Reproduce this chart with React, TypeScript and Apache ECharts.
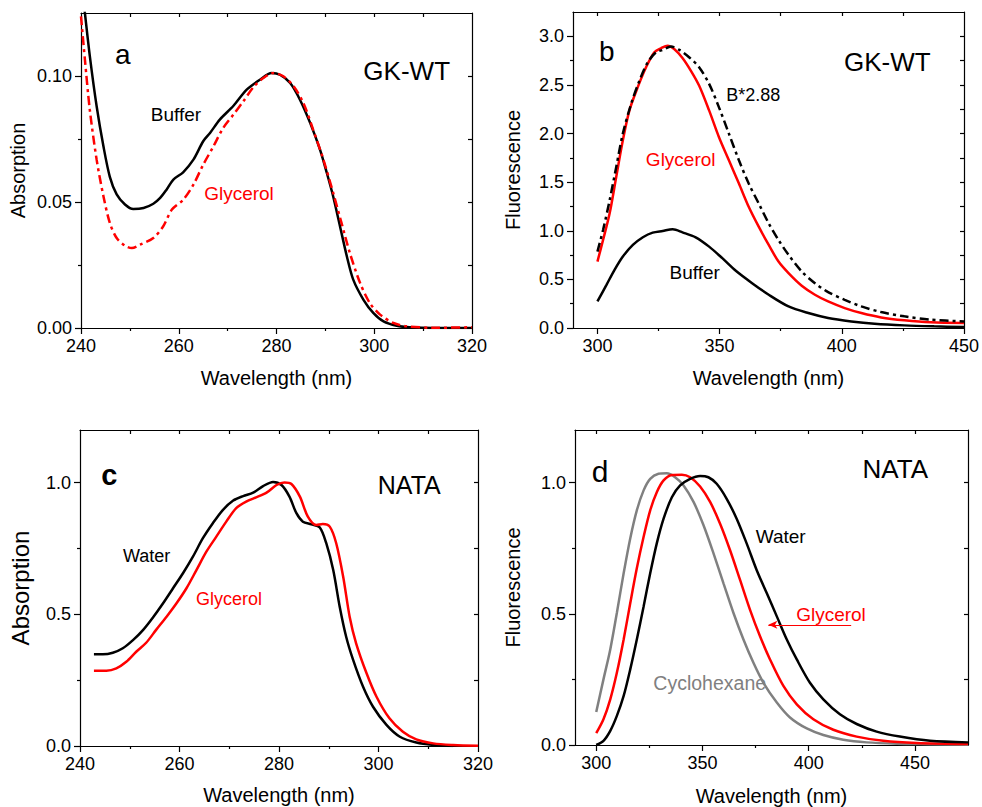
import React, { useEffect, useRef } from 'react';
import * as echarts from 'echarts';

const FF = "'Liberation Sans', Arial, Helvetica, sans-serif";
const RED = '#ff0000';
const GRAY = '#808080';
const BLACK = '#000000';

// ---------- Panel a : GK-WT absorption ----------
const aBufferWl = [240.3, 240.8, 241.8, 243.2, 244.6, 245.9, 247.3, 249.0, 250.7, 252.8, 254.8, 256.2, 257.5, 258.9, 260.9, 263.0, 265.0, 266.4, 268.4, 271.2, 273.9, 276.6, 279.0, 280.7, 282.8, 284.8, 286.9, 288.9, 290.3, 291.6, 293.0, 294.4, 295.7, 297.8, 299.8, 301.9, 304.6, 307.3, 312.1, 320];
const aBufferAbs = [0.134, 0.125, 0.108, 0.088, 0.072, 0.060, 0.053, 0.049, 0.0472, 0.0476, 0.0493, 0.0516, 0.0549, 0.0589, 0.0618, 0.0668, 0.0741, 0.0774, 0.0827, 0.0882, 0.0946, 0.0985, 0.1012, 0.1005, 0.0972, 0.0906, 0.0813, 0.0708, 0.0615, 0.0522, 0.0403, 0.0284, 0.0192, 0.0112, 0.0060, 0.0026, 0.0009, 0.0003, 0, 0];
const aGlycerolWl = [240.0, 240.8, 241.8, 243.2, 244.6, 245.9, 247.3, 249.0, 250.4, 252.1, 254.8, 256.8, 258.6, 260.9, 263.0, 265.0, 267.1, 269.1, 271.2, 273.2, 275.3, 277.3, 279.4, 281.4, 283.5, 285.5, 287.5, 289.6, 291.6, 293.3, 295.0, 297.1, 299.1, 301.2, 303.9, 306.6, 312.1, 320];
const aGlycerolAbs = [0.1237, 0.1065, 0.0866, 0.0668, 0.0522, 0.0417, 0.0357, 0.0327, 0.0317, 0.0331, 0.0357, 0.0403, 0.0470, 0.0509, 0.0569, 0.0648, 0.0721, 0.0794, 0.0847, 0.0899, 0.0956, 0.0992, 0.1012, 0.0999, 0.0959, 0.0893, 0.0787, 0.0668, 0.0536, 0.0417, 0.0298, 0.0179, 0.0099, 0.0053, 0.0020, 0.0007, 0.0001, 0.0003];
const aXMajor = [240, 260, 280, 300, 320];
const aXMinor = [250, 270, 290, 310];
const aXTop = [250, 260, 270, 280, 290, 300, 310];
const aYMajor = [0, 0.05, 0.1];
const aYMinor = [0.025, 0.075];
const aYRight = [0.025, 0.05, 0.075, 0.1];

// ---------- Panel b : GK-WT fluorescence ----------
const bGlycerolWl = [300, 302.3, 305.0, 307.7, 310.4, 313.1, 316.5, 319.9, 323.3, 326.0, 328.7, 331.4, 334.8, 338.2, 341.6, 345.7, 349.7, 353.8, 357.9, 361.9, 366.0, 370.1, 374.1, 378.2, 383.6, 389.0, 394.4, 401.2, 408.0, 416.1, 425.6, 436.4, 450];
const bGlycerolF = [0.683, 0.905, 1.179, 1.555, 1.930, 2.238, 2.477, 2.682, 2.836, 2.877, 2.904, 2.870, 2.778, 2.648, 2.494, 2.238, 1.965, 1.725, 1.486, 1.247, 1.042, 0.854, 0.683, 0.564, 0.434, 0.342, 0.273, 0.205, 0.154, 0.109, 0.079, 0.058, 0.051];
const bBufferWl = [300, 303.7, 307.0, 310.4, 314.5, 318.6, 322.6, 326.7, 330.8, 334.8, 340.2, 345.7, 351.1, 356.5, 363.3, 370.1, 378.2, 386.3, 394.4, 403.9, 413.4, 425.6, 437.8, 450];
const bBufferF = [0.273, 0.444, 0.598, 0.735, 0.854, 0.933, 0.981, 0.998, 1.015, 0.984, 0.933, 0.837, 0.718, 0.591, 0.461, 0.342, 0.222, 0.154, 0.103, 0.068, 0.044, 0.027, 0.017, 0.010];
const bScaledWl = [300, 302.3, 305.0, 307.7, 310.4, 313.8, 317.2, 320.6, 324.0, 326.7, 330.1, 333.5, 337.5, 341.6, 345.7, 349.7, 353.8, 357.9, 361.9, 366.0, 370.1, 374.1, 378.2, 383.6, 389.0, 394.4, 401.2, 408.0, 416.1, 425.6, 436.4, 450];
const bScaledF = [0.786, 1.008, 1.315, 1.657, 1.999, 2.306, 2.545, 2.733, 2.836, 2.860, 2.894, 2.860, 2.785, 2.682, 2.511, 2.272, 1.999, 1.725, 1.486, 1.281, 1.076, 0.905, 0.752, 0.581, 0.461, 0.369, 0.290, 0.222, 0.164, 0.120, 0.085, 0.068];
const bXMajor = [300, 350, 400, 450];
const bXMinor = [325, 375, 425];
const bXTop = [300, 325, 350, 375, 400, 425];
const bYMajor = [0, 0.5, 1.0, 1.5, 2.0, 2.5, 3.0];
const bYMinor = [0.25, 0.75, 1.25, 1.75, 2.25, 2.75];
const bYRight = [0.25, 0.5, 0.75, 1.0, 1.25, 1.5, 1.75, 2.0, 2.25, 2.5, 2.75, 3.0];

// ---------- Panel c : NATA absorption ----------
const cWaterWl = [242.8, 244.6, 246.6, 248.6, 250.7, 252.7, 254.7, 256.7, 258.7, 260.7, 262.7, 264.7, 266.7, 268.7, 270.8, 272.8, 274.8, 276.8, 278.8, 280.5, 282.1, 283.5, 284.8, 286.5, 288.2, 289.5, 290.9, 292.2, 293.5, 294.9, 296.9, 298.9, 301.6, 304.3, 307.6, 311.0, 315.0];
const cWaterAbs = [0.348, 0.348, 0.354, 0.371, 0.403, 0.441, 0.489, 0.542, 0.599, 0.656, 0.719, 0.789, 0.846, 0.896, 0.932, 0.949, 0.962, 0.987, 1.003, 0.991, 0.947, 0.884, 0.852, 0.842, 0.830, 0.770, 0.668, 0.529, 0.415, 0.327, 0.225, 0.149, 0.080, 0.035, 0.013, 0.004, 0.0];
const cGlycerolWl = [242.8, 245.3, 247.3, 249.3, 251.3, 253.3, 255.3, 257.4, 259.4, 261.4, 263.4, 265.4, 267.4, 269.4, 271.4, 273.4, 275.4, 277.5, 279.5, 281.1, 282.5, 284.2, 285.8, 287.5, 288.8, 290.2, 291.5, 292.9, 294.2, 295.5, 297.6, 299.6, 302.2, 304.9, 307.6, 311.0, 315.0, 320];
const cGlycerolAbs = [0.286, 0.286, 0.295, 0.320, 0.358, 0.392, 0.441, 0.491, 0.542, 0.599, 0.668, 0.738, 0.795, 0.852, 0.903, 0.928, 0.944, 0.962, 0.991, 1.001, 0.995, 0.947, 0.871, 0.839, 0.843, 0.833, 0.770, 0.643, 0.491, 0.390, 0.276, 0.187, 0.105, 0.054, 0.025, 0.010, 0.004, 0.001];
const cXMajor = [240, 260, 280, 300, 320];
const cXMinor = [250, 270, 290, 310];
const cXTop = [250, 260, 270, 280, 290, 300, 310];
const cYMajor = [0, 0.5, 1.0];
const cYMinor = [0.25, 0.75];
const cYRight = [0.25, 0.5, 0.75, 1.0];

// ---------- Panel d : NATA fluorescence ----------
const dCycloWl = [300, 303.4, 306.6, 309.7, 312.9, 316.0, 319.1, 322.3, 325.4, 329.3, 333.2, 337.1, 341.1, 345.8, 350.5, 355.2, 359.9, 364.6, 369.3, 374.0, 378.7, 385.0, 391.2, 399.1, 406.9, 416.3, 427.3, 441.4, 457.1, 475];
const dCycloF = [0.126, 0.250, 0.364, 0.503, 0.654, 0.787, 0.894, 0.970, 1.014, 1.033, 1.035, 1.020, 0.989, 0.926, 0.837, 0.730, 0.616, 0.503, 0.402, 0.313, 0.237, 0.162, 0.105, 0.063, 0.038, 0.020, 0.010, 0.005, 0.003, 0.001];
const dGlycerolWl = [300, 303.4, 306.6, 309.7, 312.9, 316.0, 319.1, 322.3, 325.4, 328.5, 331.7, 335.6, 340.3, 344.2, 348.9, 353.6, 358.3, 363.0, 367.7, 372.4, 377.1, 381.8, 388.1, 394.4, 402.2, 411.6, 422.6, 435.1, 450.8, 475];
const dGlycerolF = [0.045, 0.098, 0.174, 0.275, 0.402, 0.540, 0.673, 0.793, 0.894, 0.963, 1.008, 1.029, 1.030, 1.020, 0.985, 0.926, 0.843, 0.742, 0.629, 0.515, 0.414, 0.326, 0.225, 0.155, 0.098, 0.058, 0.032, 0.016, 0.008, 0.004];
const dWaterWl = [300, 303.4, 306.6, 309.7, 312.9, 316.0, 319.1, 322.3, 325.4, 328.5, 331.7, 335.6, 339.5, 344.2, 348.9, 352.8, 356.7, 361.4, 366.1, 370.8, 375.5, 380.3, 385.0, 389.7, 394.4, 400.6, 406.9, 414.7, 422.6, 432.0, 442.9, 457.1, 475];
const dWaterF = [0.0, 0.016, 0.054, 0.111, 0.187, 0.288, 0.402, 0.528, 0.654, 0.768, 0.862, 0.944, 0.989, 1.014, 1.025, 1.020, 0.995, 0.938, 0.862, 0.768, 0.667, 0.578, 0.490, 0.402, 0.326, 0.237, 0.174, 0.117, 0.080, 0.051, 0.032, 0.016, 0.010];
const dXMajor = [300, 350, 400, 450];
const dXMinor = [325, 375, 425];
const dXTop = [300, 325, 350, 375, 400, 425, 450];
const dYMajor = [0, 0.5, 1.0];
const dYMinor = [0.25, 0.75];
const dYRight = [0.25, 0.5, 0.75, 1.0];
const dArrowFrom = [420, 0.458];
const dArrowTo = [381, 0.458];

const zip = (xs: number[], ys: number[]) => xs.map((x, i) => [x, ys[i]]);

const AX_COLOR = '#000';
const AX_W = 1.2;

function axesFor(
  gi: number,
  kind: 'x' | 'y',
  min: number,
  max: number,
  major: number[],
  minor: number[],
  opposite: number[],
  decimals: number,
  name: string,
  nameGap: number,
  nameSize: number
) {
  const main = kind === 'x' ? 'bottom' : 'left';
  const opp = kind === 'x' ? 'top' : 'right';
  const base = {
    type: 'value',
    gridIndex: gi,
    min,
    max,
    splitLine: { show: false },
    scale: false,
  };
  return [
    {
      ...base,
      position: main,
      axisLine: { show: true, onZero: false, lineStyle: { color: AX_COLOR, width: AX_W } },
      axisTick: { show: true, inside: false, length: 6, customValues: major, lineStyle: { color: AX_COLOR, width: AX_W } },
      axisLabel: {
        show: true,
        customValues: major,
        margin: kind === 'x' ? 9 : 9,
        fontSize: 18,
        color: '#000',
        fontFamily: FF,
        formatter: (v: number) => v.toFixed(decimals),
      },
      name,
      nameLocation: 'middle',
      nameGap,
      nameTextStyle: { fontSize: nameSize, color: '#000', fontFamily: FF },
    },
    {
      ...base,
      position: main,
      axisLine: { show: false, onZero: false },
      axisTick: { show: true, inside: false, length: 3, customValues: minor, lineStyle: { color: AX_COLOR, width: AX_W } },
      axisLabel: { show: false },
    },
    {
      ...base,
      position: opp,
      axisLine: { show: true, onZero: false, lineStyle: { color: AX_COLOR, width: AX_W } },
      axisTick: { show: true, inside: true, length: 4, customValues: opposite, lineStyle: { color: AX_COLOR, width: AX_W } },
      axisLabel: { show: false },
    },
  ];
}

const lineSeries = (
  gi: number,
  name: string,
  data: number[][],
  color: string,
  type: any = 'solid',
  extra: any = {}
) => ({
  type: 'line',
  name,
  xAxisIndex: gi * 3,
  yAxisIndex: gi * 3,
  data,
  showSymbol: false,
  symbol: 'none',
  smooth: 0.3,
  clip: true,
  lineStyle: { color, width: 2.5, type },
  itemStyle: { color },
  z: 3,
  ...extra,
});

const txt = (x: number, y: number, text: string, fontSize: number, fill = '#000', fontWeight: any = 'normal') => ({
  type: 'text',
  x,
  y,
  z: 10,
  style: {
    text,
    fontSize,
    fontFamily: FF,
    fontWeight,
    fill,
    align: 'center',
    verticalAlign: 'middle',
    textAlign: 'center',
    textVerticalAlign: 'middle',
  },
});

export default function App() {
  const ref = useRef<HTMLDivElement>(null);
  useEffect(() => {
    if (!ref.current) return;
    const chart = echarts.init(ref.current, undefined, { renderer: 'svg' });
    const grids = [
      { left: 81, top: 13, width: 391, height: 315 },
      { left: 573, top: 12, width: 394, height: 316 },
      { left: 80, top: 430, width: 398, height: 316 },
      { left: 575, top: 430, width: 393, height: 316 },
    ];
    const xAxis = [
      ...axesFor(0, 'x', 240, 320, aXMajor, aXMinor, aXTop, 0, 'Wavelength (nm)', 40, 20),
      ...axesFor(1, 'x', 290, 450, bXMajor, bXMinor, bXTop, 0, 'Wavelength (nm)', 40, 20),
      ...axesFor(2, 'x', 240, 320, cXMajor, cXMinor, cXTop, 0, 'Wavelength (nm)', 39, 20),
      ...axesFor(3, 'x', 290, 475, dXMajor, dXMinor, dXTop, 0, 'Wavelength (nm)', 41, 20),
    ];
    const yAxis = [
      ...axesFor(0, 'y', 0, 0.125, aYMajor, aYMinor, aYRight, 2, 'Absorption', 53, 20),
      ...axesFor(1, 'y', 0, 3.25, bYMajor, bYMinor, bYRight, 1, 'Fluorescence', 50, 20),
      ...axesFor(2, 'y', 0, 1.2, cYMajor, cYMinor, cYRight, 1, 'Absorption', 48, 24),
      ...axesFor(3, 'y', 0, 1.2, dYMajor, dYMinor, dYRight, 1, 'Fluorescence', 52, 20),
    ];
    const series = [
      lineSeries(0, 'Buffer', zip(aBufferWl, aBufferAbs), BLACK),
      lineSeries(0, 'Glycerol', zip(aGlycerolWl, aGlycerolAbs), RED, [9, 4, 3, 4]),
      lineSeries(1, 'Glycerol', zip(bGlycerolWl, bGlycerolF), RED),
      lineSeries(1, 'Buffer', zip(bBufferWl, bBufferF), BLACK),
      lineSeries(1, 'B*2.88', zip(bScaledWl, bScaledF), BLACK, [9, 4, 3, 4]),
      lineSeries(2, 'Water', zip(cWaterWl, cWaterAbs), BLACK),
      lineSeries(2, 'Glycerol', zip(cGlycerolWl, cGlycerolAbs), RED),
      lineSeries(3, 'Cyclohexane', zip(dCycloWl, dCycloF), GRAY),
      lineSeries(3, 'Glycerol', zip(dGlycerolWl, dGlycerolF), RED, 'solid', {
        markLine: {
          silent: true,
          symbol: ['none', 'arrow'],
          symbolSize: [6, 9],
          label: { show: false },
          lineStyle: { color: RED, width: 1.2, type: 'solid' },
          data: [[{ coord: dArrowFrom }, { coord: dArrowTo }]],
        },
      }),
      lineSeries(3, 'Water', zip(dWaterWl, dWaterF), BLACK),
    ];
    const graphic = [
      txt(122.7, 54.5, 'a', 28),
      txt(406.7, 71, 'GK-WT', 26),
      txt(176, 114, 'Buffer', 19),
      txt(239, 193.4, 'Glycerol', 19, RED),
      txt(606.7, 51.3, 'b', 28),
      txt(887.3, 61.7, 'GK-WT', 26),
      txt(753.3, 94.5, 'B*2.88', 18),
      txt(680.7, 159.4, 'Glycerol', 19, RED),
      txt(694.7, 272, 'Buffer', 19),
      txt(109.3, 475.3, 'c', 29, '#000', 'bold'),
      txt(409.3, 484.6, 'NATA', 25),
      txt(146.7, 555.5, 'Water', 18),
      txt(229, 598.8, 'Glycerol', 18, RED),
      txt(600, 471.3, 'd', 30),
      txt(895.3, 468.7, 'NATA', 26),
      txt(780.7, 536.1, 'Water', 19),
      txt(831, 614.1, 'Glycerol', 19, RED),
      txt(709.7, 683.4, 'Cyclohexane', 19.5, GRAY),
    ];
    chart.setOption({
      animation: false,
      backgroundColor: '#fff',
      textStyle: { fontFamily: FF },
      grid: grids,
      xAxis,
      yAxis,
      series,
      graphic,
    });
    return () => chart.dispose();
  }, []);
  return <div ref={ref} style={{ position: 'absolute', left: 0, top: 0, width: 982, height: 807 }} />;
}
